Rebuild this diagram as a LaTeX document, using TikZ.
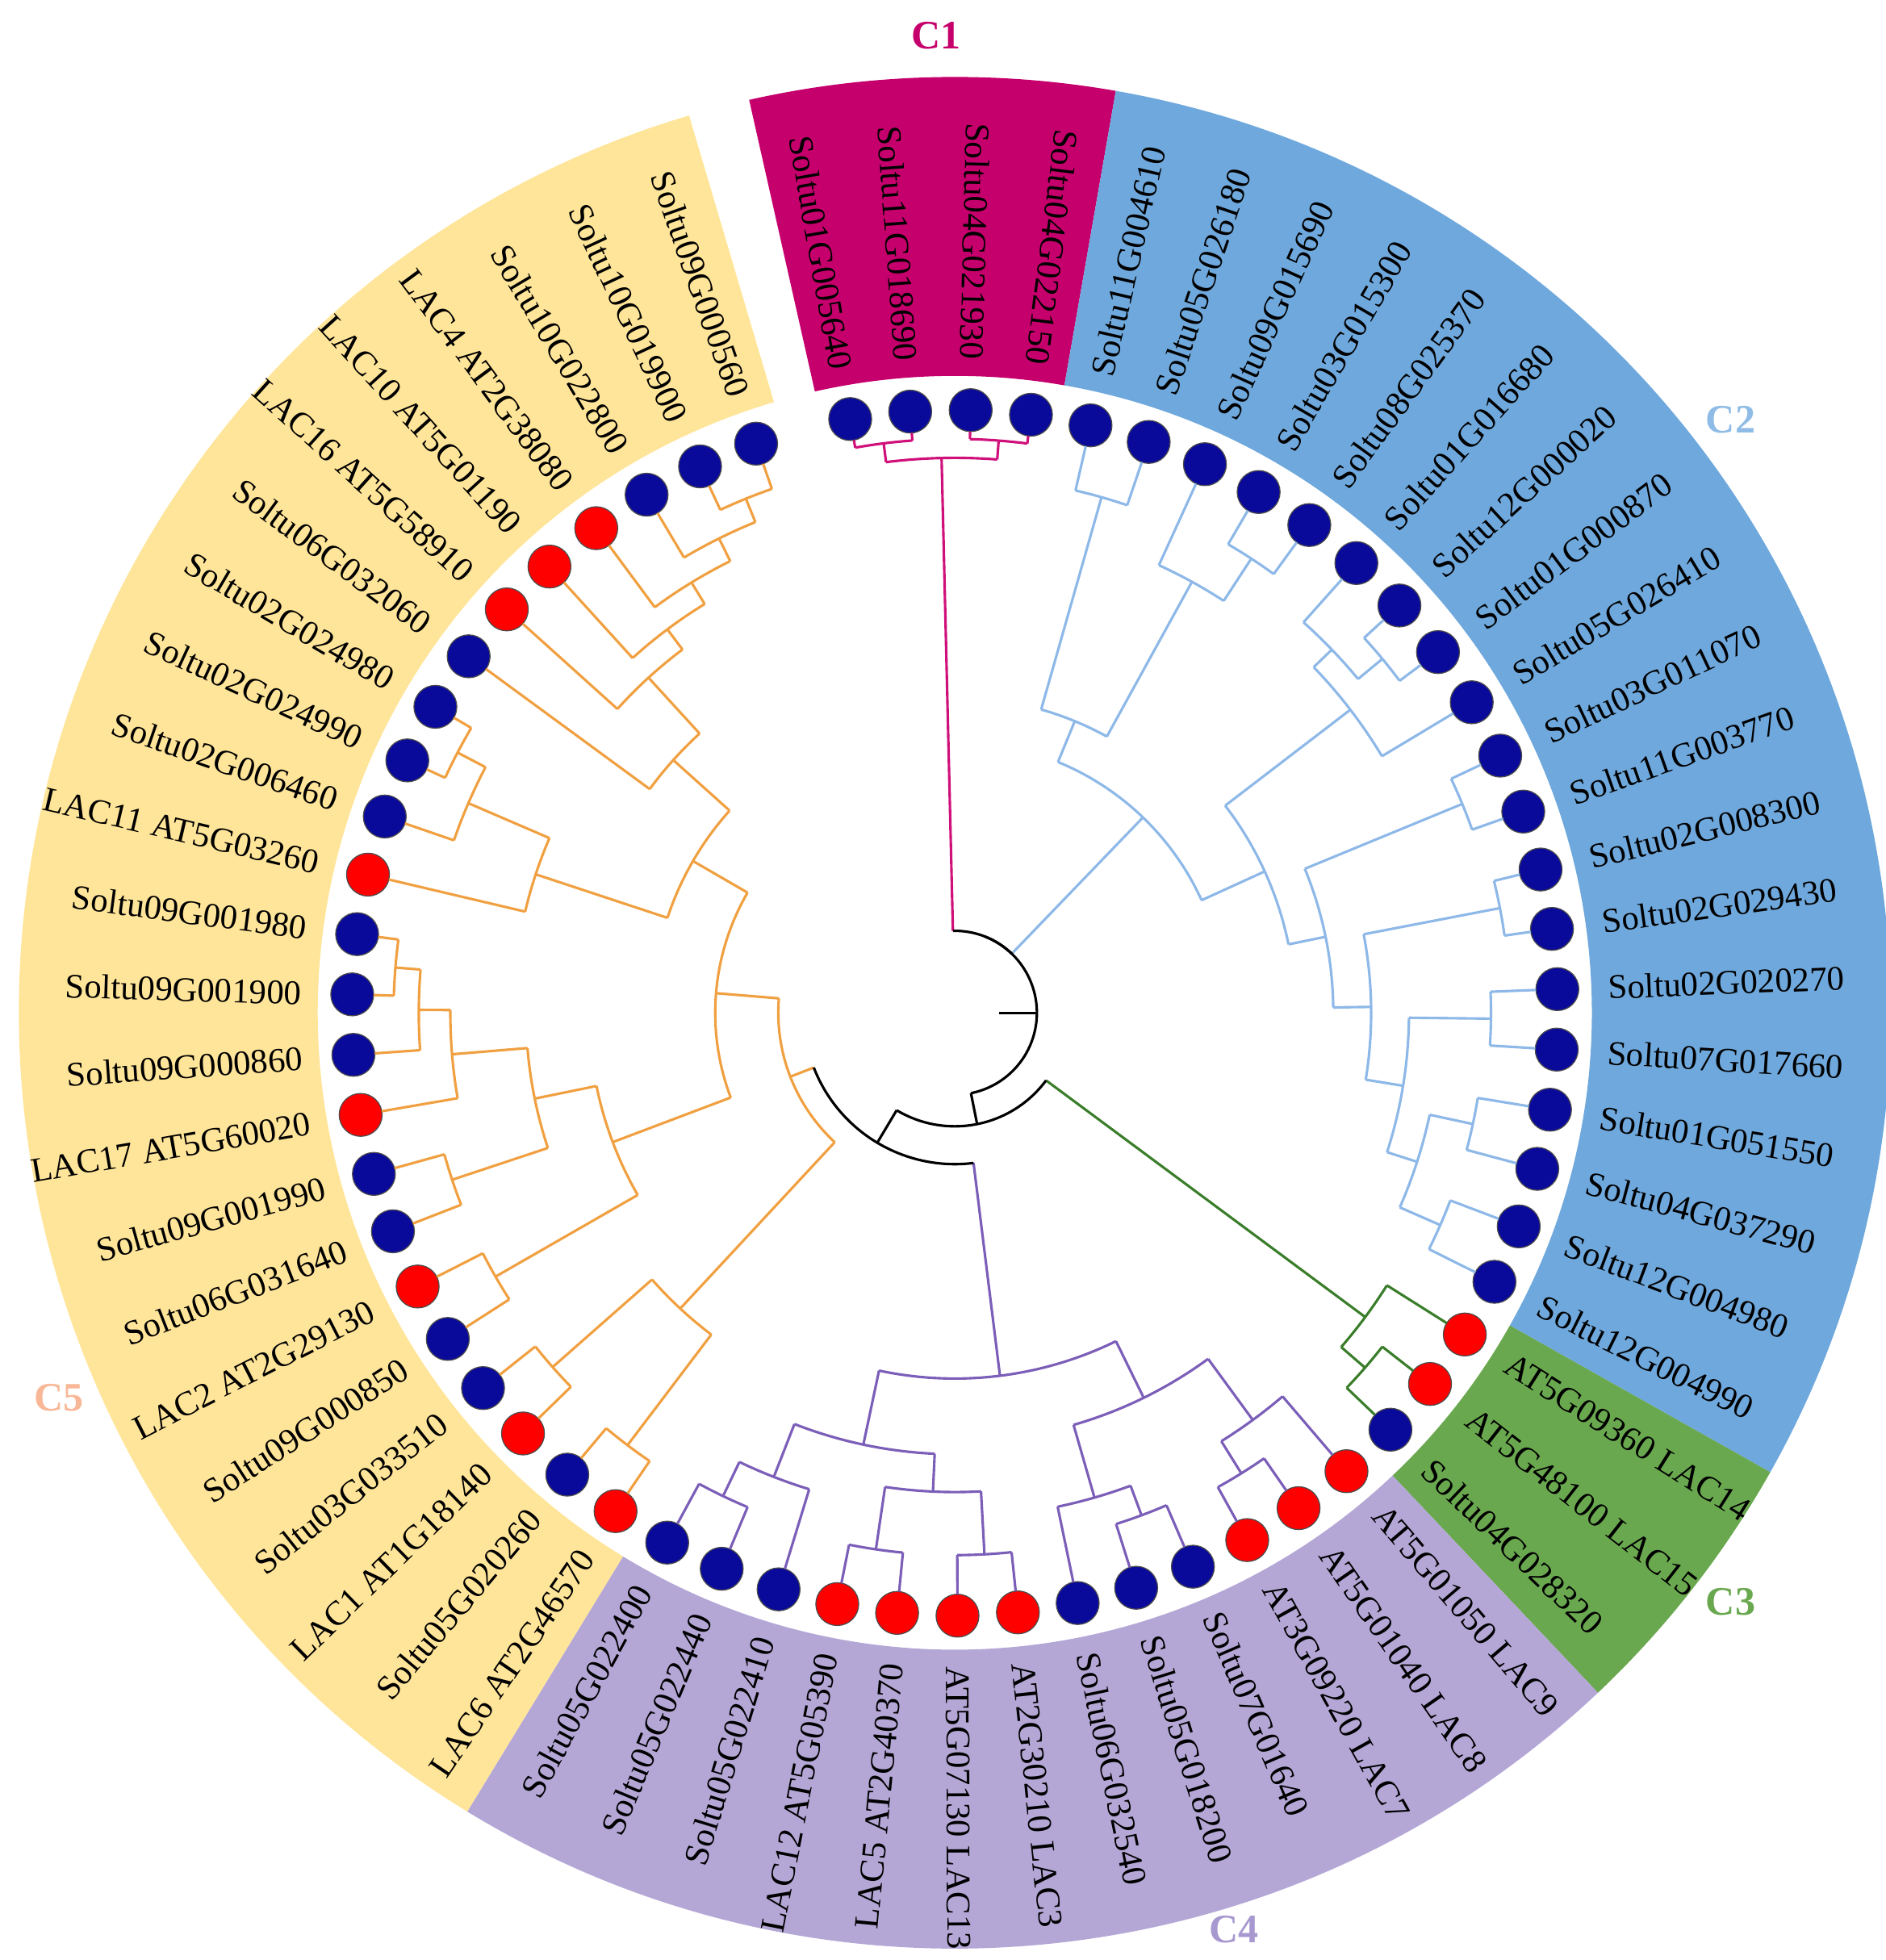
\documentclass[tikz,border=0pt]{standalone}
\usepackage{fontspec}
\setmainfont{Liberation Serif}
\definecolor{bandA}{HTML}{C5006C}
\definecolor{bandB}{HTML}{6FA8DC}
\definecolor{bandC}{HTML}{6AA84F}
\definecolor{bandD}{HTML}{B4A7D6}
\definecolor{bandE}{HTML}{FFE599}
\definecolor{lnA}{HTML}{D0107A}
\definecolor{lnB}{HTML}{8DB8E8}
\definecolor{lnC}{HTML}{3A7D2A}
\definecolor{lnD}{HTML}{7B5EB8}
\definecolor{lnE}{HTML}{F0A040}
\definecolor{navy}{HTML}{0A0A9A}
\definecolor{labE}{HTML}{F8B898}
\definecolor{labD}{HTML}{A898D0}
\definecolor{labB}{HTML}{8FBCE6}
\newcommand\nd[5]{%
 \edef\aA{\csname pa#3\endcsname}\edef\aB{\csname pa#4\endcsname}%
 \edef\rA{\csname pr#3\endcsname}\edef\rB{\csname pr#4\endcsname}%
 \edef\cA{\csname pc#3\endcsname}\edef\cB{\csname pc#4\endcsname}%
 \draw[br,color=\cA] (\aA:\rA) -- (\aA:#2);
 \draw[br,color=\cB] (\aB:\rB) -- (\aB:#2);
 \draw[br,color=#5] (\aA:#2) arc[start angle=\aA, end angle=\aB, radius=#2*0.5pt];
 \pgfmathsetmacro\am{(\aA+\aB)/2}%
 \expandafter\xdef\csname pa#1\endcsname{\am}%
 \expandafter\xdef\csname pr#1\endcsname{#2}%
 \expandafter\xdef\csname pc#1\endcsname{#5}}
\begin{document}
\begin{tikzpicture}[x=0.5pt,y=0.5pt,
 br/.style={line width=1pt},
 lab/.style={font=\fontsize{13.7}{15}\selectfont, inner sep=0pt},
 grp/.style={font=\fontsize{16}{18}\selectfont\bfseries},
 dot/.style={circle, draw=black!70, line width=0.4pt, minimum size=17pt, inner sep=0pt}]
\useasboundingbox (-757,-751) rectangle (738,803);
% bands
\fill[bandA] (102.7:505) -- (102.7:742) arc[start angle=102.7,end angle=80.1,radius=371pt] -- (80.1:505) arc[start angle=80.1,end angle=102.7,radius=252.5pt] -- cycle;
\fill[bandB] (80.1:505) -- (80.1:742) arc[start angle=80.1,end angle=-29.4,radius=371pt] -- (-29.4:505) arc[start angle=-29.4,end angle=80.1,radius=252.5pt] -- cycle;
\fill[bandC] (-29.4:505) -- (-29.4:742) arc[start angle=-29.4,end angle=-46.6,radius=371pt] -- (-46.6:505) arc[start angle=-46.6,end angle=-29.4,radius=252.5pt] -- cycle;
\fill[bandD] (-46.6:505) -- (-46.6:742) arc[start angle=-46.6,end angle=-121.4,radius=371pt] -- (-121.4:505) arc[start angle=-121.4,end angle=-46.6,radius=252.5pt] -- cycle;
\fill[bandE] (-121.4:505) -- (-121.4:742) arc[start angle=-121.4,end angle=-253.5,radius=371pt] -- (-253.5:505) arc[start angle=-253.5,end angle=-121.4,radius=252.5pt] -- cycle;
% leaves
\foreach \i/\t/\k in {0/Soltu01G005640/S,1/Soltu11G018690/S,2/Soltu04G021930/S,3/Soltu04G022150/S,
4/Soltu11G004610/S,5/Soltu05G026180/S,6/Soltu09G015690/S,7/Soltu03G015300/S,8/Soltu08G025370/S,9/Soltu01G016680/S,10/Soltu12G000020/S,11/Soltu01G000870/S,12/Soltu05G026410/S,13/Soltu03G011070/S,14/Soltu11G003770/S,15/Soltu02G008300/S,16/Soltu02G029430/S,17/Soltu02G020270/S,18/Soltu07G017660/S,19/Soltu01G051550/S,20/Soltu04G037290/S,21/Soltu12G004980/S,22/Soltu12G004990/S,
23/AT5G09360 LAC14/A,24/AT5G48100 LAC15/A,25/Soltu04G028320/S,
26/AT5G01050 LAC9/A,27/AT5G01040 LAC8/A,28/AT3G09220 LAC7/A,29/Soltu07G01640/S,30/Soltu05G018200/S,31/Soltu06G032540/S,32/AT2G30210 LAC3/A,33/AT5G07130 LAC13/A,34/LAC5 AT2G40370/A,35/LAC12 AT5G05390/A,36/Soltu05G022410/S,37/Soltu05G022440/S,38/Soltu05G022400/S,
39/LAC6 AT2G46570/A,40/Soltu05G020260/S,41/LAC1 AT1G18140/A,42/Soltu03G033510/S,43/Soltu09G000850/S,44/LAC2 AT2G29130/A,45/Soltu06G031640/S,46/Soltu09G001990/S,47/LAC17 AT5G60020/A,48/Soltu09G000860/S,49/Soltu09G001900/S,50/Soltu09G001980/S,51/LAC11 AT5G03260/A,52/Soltu02G006460/S,53/Soltu02G024990/S,54/Soltu02G024980/S,55/Soltu06G032060/S,56/LAC16 AT5G58910/A,57/LAC10 AT5G01190/A,58/LAC4 AT2G38080/A,59/Soltu10G022800/S,60/Soltu10G019900/S,61/Soltu09G000560/S}{
 \pgfmathsetmacro\a{100-5.75*\i}
 \pgfmathtruncatemacro\flip{(\a<80 && \a>-90) ? 0 : 1}
 \ifnum\flip=0
  \node[lab, rotate=\a, anchor=west] (T\i) at (\a:518) {\t};
 \else
  \node[lab, rotate=\a+180, anchor=east] (T\i) at (\a:518) {\t};
 \fi
 \if\k A \node[dot, fill=red] (L\i) at (\a:478) {};
 \else \node[dot, fill=navy] (L\i) at (\a:478) {}; \fi
 \expandafter\xdef\csname paL\i\endcsname{\a}
 \expandafter\xdef\csname prL\i\endcsname{461}
 \ifnum\i<4 \expandafter\xdef\csname pcL\i\endcsname{lnA}
 \else\ifnum\i<23 \expandafter\xdef\csname pcL\i\endcsname{lnB}
 \else\ifnum\i<26 \expandafter\xdef\csname pcL\i\endcsname{lnC}
 \else\ifnum\i<39 \expandafter\xdef\csname pcL\i\endcsname{lnD}
 \else \expandafter\xdef\csname pcL\i\endcsname{lnE}\fi\fi\fi\fi
}
% C1
\nd{ca}{455}{L0}{L1}{lnA}\nd{cb}{455}{L2}{L3}{lnA}\nd{C1}{440}{ca}{cb}{lnA}
% C2
\nd{a1}{425}{L4}{L5}{lnB}\nd{a2}{430}{L7}{L8}{lnB}\nd{a3}{390}{L6}{a2}{lnB}\nd{A2}{250}{a1}{a3}{lnB}
\nd{b1}{440}{L10}{L11}{lnB}\nd{b2}{415}{L9}{b1}{lnB}\nd{b3}{395}{b2}{L12}{lnB}
\nd{b4}{435}{L13}{L14}{lnB}\nd{b5}{440}{L15}{L16}{lnB}\nd{b6}{425}{L17}{L18}{lnB}
\nd{b7}{420}{L19}{L20}{lnB}\nd{b8}{420}{L21}{L22}{lnB}\nd{b9}{385}{b7}{b8}{lnB}
\nd{b10}{360}{b6}{b9}{lnB}\nd{b11}{330}{b5}{b10}{lnB}\nd{b12}{300}{b4}{b11}{lnB}
\nd{B2}{270}{b3}{b12}{lnB}\nd{C2}{215}{A2}{B2}{lnB}
% C3
\nd{c3a}{430}{L24}{L25}{lnC}\nd{C3}{405}{L23}{c3a}{lnC}
% C4
\nd{d1}{430}{L27}{L28}{lnD}\nd{d2}{400}{L26}{d1}{lnD}\nd{d3}{425}{L29}{L30}{lnD}\nd{d4}{400}{d3}{L31}{lnD}\nd{d5}{340}{d2}{d4}{lnD}
\nd{d6}{430}{L32}{L33}{lnD}\nd{d7}{430}{L34}{L35}{lnD}\nd{d8}{380}{d7}{d6}{lnD}\nd{d9}{425}{L37}{L38}{lnD}\nd{d10}{395}{L36}{d9}{lnD}\nd{d11}{350}{d8}{d10}{lnD}\nd{C4}{290}{d5}{d11}{lnD}
% C5
\nd{n1}{430}{L39}{L40}{lnE}\nd{n2}{425}{L41}{L42}{lnE}\nd{n3}{420}{L43}{L44}{lnE}\nd{n4}{420}{L45}{L46}{lnE}
\nd{m1}{445}{L49}{L50}{lnE}\nd{m2}{425}{L48}{m1}{lnE}\nd{n5}{400}{L47}{m2}{lnE}\nd{n6}{340}{n4}{n5}{lnE}\nd{n7}{290}{n3}{n6}{lnE}
\nd{k1}{445}{L53}{L54}{lnE}\nd{k2}{420}{L52}{k1}{lnE}\nd{n8}{350}{L51}{k2}{lnE}
\nd{j1}{440}{L60}{L61}{lnE}\nd{j2}{420}{L59}{j1}{lnE}\nd{j3}{400}{L58}{j2}{lnE}\nd{j4}{380}{L57}{j3}{lnE}\nd{j5}{360}{L56}{j4}{lnE}\nd{n9}{300}{L55}{j5}{lnE}
\nd{n10}{240}{n8}{n9}{lnE}\nd{n11}{190}{n7}{n10}{lnE}\nd{bt}{320}{n1}{n2}{lnE}\nd{C5}{140}{bt}{n11}{lnE}
% backbone
\nd{Y}{120}{C4}{C5}{black}\nd{X}{90}{C3}{Y}{black}\nd{R0}{65}{C1}{C2}{black}\nd{RT}{65}{R0}{X}{black}
\coordinate (r1) at (0:35); \coordinate (r2) at (0:65);
\draw[br] (r1) -- (r2);
% group labels
\node[grp, text=bandA] (g1) at (-15,775) {C1};
\node[grp, text=labB] (g2) at (615,470) {C2};
\node[grp, text=bandC] (g3) at (615,-467) {C3};
\node[grp, text=labD] (g4) at (221,-727) {C4};
\node[grp, text=labE] (g5) at (-710,-305) {C5};
\end{tikzpicture}
\end{document}
